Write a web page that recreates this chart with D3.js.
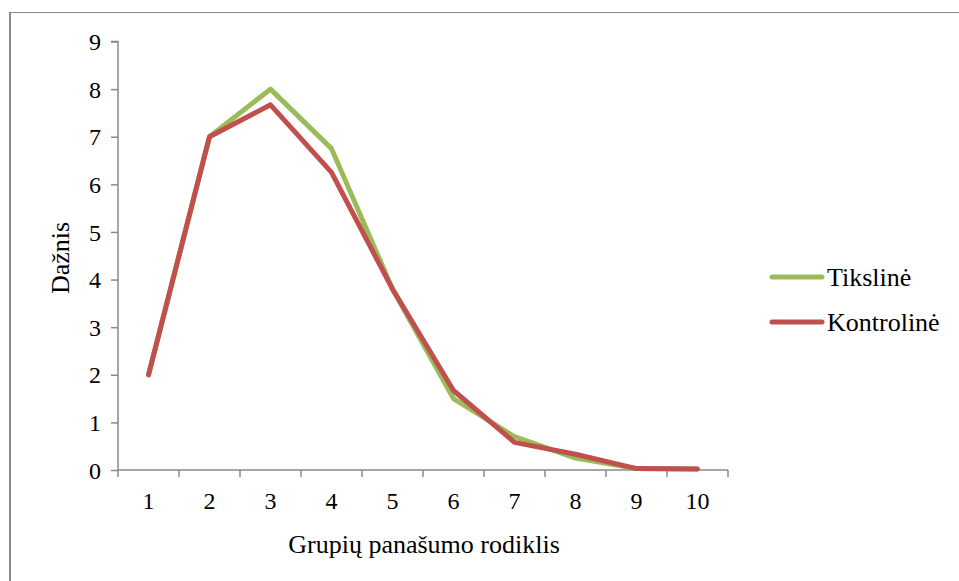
<!DOCTYPE html>
<html><head><meta charset="utf-8">
<script src="https://cdn.jsdelivr.net/npm/d3@7"></script>
<style>body{margin:0;background:#fff}svg{display:block}text{font-family:'Liberation Serif','Times New Roman',Times,Tinos,'Noto Serif','DejaVu Serif',FreeSerif,serif !important;fill:#000}</style>
</head><body>
<script>
const categories = ["1","2","3","4","5","6","7","8","9","10"];
const tikslineValues = [2, 7, 8, 6.75, 3.8, 1.5, 0.7, 0.25, 0.03, 0.02];
const kontrolineValues = [2, 7, 7.67, 6.25, 3.8, 1.67, 0.58, 0.33, 0.03, 0.02];
const yTicks = [0,1,2,3,4,5,6,7,8,9];
const seriesNames = ["Tiksline\u0307", "Kontroline\u0307"];
const colors = ["#9BBB59", "#C0504D"];

(function(){
const W = 959, H = 581;
const FS = 24, FT = 26;
const svg = d3.select("body").append("svg").attr("width", W).attr("height", H);

// outer frame
svg.append("line").attr("x1",9.5).attr("x2",W).attr("y1",12.5).attr("y2",12.5).attr("stroke","#898989").attr("stroke-width",1.2);
svg.append("line").attr("x1",10).attr("x2",10).attr("y1",12).attr("y2",H).attr("stroke","#898989").attr("stroke-width",2);

const mLeft = 118, mRight = 728, mTop = 41.5, mBottom = 470;
const x = d3.scaleBand().domain(categories).range([mLeft, mRight]);
const y = d3.scaleLinear().domain([0, 9]).range([mBottom, mTop]);

// y axis
const yAxis = svg.append("g").attr("transform", `translate(${mLeft},0)`)
  .call(d3.axisLeft(y).tickValues(yTicks).tickSize(7).tickPadding(10).tickFormat(d3.format("d")));
yAxis.attr("font-family", null).attr("font-size", null);
yAxis.selectAll("path,line").attr("stroke","#898989").attr("stroke-width",1.5);
yAxis.select("path").attr("d", `M-7,${mTop}H0V${mBottom}`);
yAxis.selectAll("text").style("font-size",FS+"px").attr("dy","0.34em");

// x axis
const xAxis = svg.append("g").attr("transform", `translate(0,${mBottom})`)
  .call(d3.axisBottom(x).tickSize(0).tickPadding(22));
xAxis.attr("font-family", null).attr("font-size", null);
xAxis.select("path").attr("d", `M${mLeft},0H${mRight}`).attr("stroke","#898989").attr("stroke-width",1.5);
xAxis.selectAll("text").style("font-size",FS+"px");
const bounds = categories.map(c => x(c)).concat([mRight]);
xAxis.selectAll(".btick").data(bounds).enter().append("line")
  .attr("x1", d => d).attr("x2", d => d).attr("y1", 0).attr("y2", 7)
  .attr("stroke","#898989").attr("stroke-width",1.5);

// axis titles
svg.append("text").attr("transform", `translate(69,258) rotate(-90)`).attr("text-anchor","middle")
  .style("font-size",FT+"px").text("Dažnis");
svg.append("text").attr("x", 424).attr("y", 553).attr("text-anchor","middle")
  .style("font-size",FT+"px").text("Grupių panašumo rodiklis");

// lines
const line = d3.line().x((d,i) => x(categories[i]) + x.bandwidth()/2).y(d => y(d));
[tikslineValues, kontrolineValues].forEach((vals, i) => {
  svg.append("path").datum(vals).attr("d", line).attr("fill","none")
    .attr("stroke", colors[i]).attr("stroke-width",5).attr("stroke-linejoin","round").attr("stroke-linecap","round");
});

// legend
const lg = svg.append("g");
seriesNames.forEach((n, i) => {
  const yy = 277 + i*45;
  lg.append("line").attr("x1",772).attr("x2",822).attr("y1",yy).attr("y2",yy)
    .attr("stroke",colors[i]).attr("stroke-width",5).attr("stroke-linecap","round");
  lg.append("text").attr("x",827).attr("y",yy).attr("dy","0.35em").style("font-size",FT+"px").text(n);
});
})();
</script>
</body></html>
